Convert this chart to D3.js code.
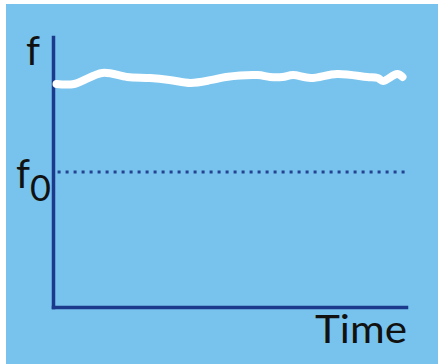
<!DOCTYPE html>
<html><head><meta charset="utf-8">
<script src="https://cdn.jsdelivr.net/npm/d3@7"></script>
<style>
html,body{margin:0;padding:0;background:#fff;}
svg{display:block;}
</style></head>
<body>
<script>
// data
const timeValues = [1, 6, 14, 21, 27.5, 33, 39, 45, 49, 58, 61.5, 65, 68, 73, 80.5, 89, 92, 93.5, 97.5, 99];
const fValues = [82.6, 82.6, 86.7, 85.2, 84.8, 84.1, 83, 84.1, 85.2, 85.9, 85.2, 85.2, 85.9, 84.8, 86.3, 85.2, 84.8, 83.7, 86.3, 85.2];
const f0Value = 50;
const axisLabels = {y: "f", ref: "f", refSub: "0", x: "Time"};

const W = 438, H = 364;
const svg = d3.select("body").append("svg").attr("width", W).attr("height", H);
svg.append("rect").attr("x", 6).attr("y", 4).attr("width", W - 6).attr("height", H - 4).attr("fill", "#78C3ED");

const x = d3.scaleLinear().domain([0, 100]).range([53, 406]);
const y = d3.scaleLinear().domain([0, 100]).range([307, 37]);

const axisColor = "#1B3A8C";

// f0 dotted reference
svg.append("line")
  .attr("x1", x(1.3)).attr("x2", x(100.8))
  .attr("y1", y(f0Value)).attr("y2", y(f0Value))
  .attr("stroke", "#23428f").attr("stroke-width", 3)
  .attr("stroke-dasharray", "3,5");

// axes
const gy = svg.append("g").attr("transform", `translate(${x(0)},0)`)
  .call(d3.axisLeft(y).tickValues([]).tickSizeOuter(0));
const gx = svg.append("g").attr("transform", `translate(0,${y(0)})`)
  .call(d3.axisBottom(x).tickValues([]).tickSizeOuter(0));
[gy, gx].forEach(g => g.select(".domain").attr("stroke", axisColor).attr("stroke-width", 3.5).attr("stroke-linecap", "square"));

// white line
const data = timeValues.map((t, i) => ({t, v: fValues[i]}));
svg.append("path").datum(data)
  .attr("fill", "none").attr("stroke", "#fff").attr("stroke-width", 8)
  .attr("stroke-linecap", "round").attr("stroke-linejoin", "round")
  .attr("d", d3.line().x(d => x(d.t)).y(d => y(d.v)).curve(d3.curveCatmullRom.alpha(0.5)));

// labels
const font = "Lato, 'Open Sans', sans-serif";
svg.append("text").attr("x", 26).attr("y", 65)
  .attr("font-family", font).attr("font-size", 40).attr("fill", "#111")
  .text(axisLabels.y);
const t0 = svg.append("text").attr("x", 16).attr("y", 188)
  .attr("font-family", font).attr("font-size", 40).attr("fill", "#111");
t0.append("tspan").text(axisLabels.ref);
t0.append("tspan").attr("dy", 13).attr("font-size", 36).text(axisLabels.refSub);
svg.append("text").attr("x", 315).attr("y", 343)
  .attr("font-family", font).attr("font-size", 39).attr("fill", "#111")
  .attr("textLength", 92).attr("lengthAdjust", "spacingAndGlyphs")
  .text(axisLabels.x);
</script>
</body></html>
